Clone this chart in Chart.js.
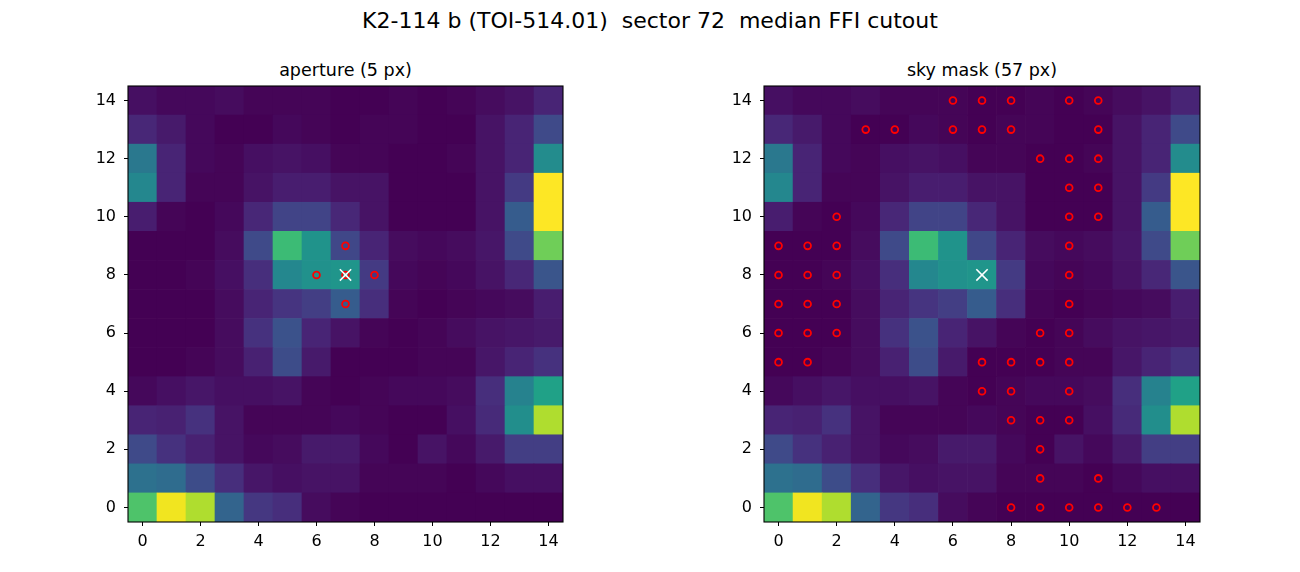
<!DOCTYPE html>
<html>
<head>
<meta charset="utf-8">
<script src="https://cdn.jsdelivr.net/npm/chart.js@4.4.1/dist/chart.umd.min.js"></script>
<style>
  html, body { margin: 0; padding: 0; background: #fff; }
  #wrap { position: relative; width: 1300px; height: 572px; overflow: hidden; font-family: "DejaVu Sans", sans-serif; }
  canvas { position: absolute; top: 0; }
  .t { position: absolute; white-space: pre; transform: translate(-50%, -50%); color: #000; }
</style>
</head>
<body>
<div id="wrap">
  <div class="t" id="sup" style="left:650px; top:20px; font-size:22px;"></div>
  <div class="t" id="t1" style="left:345.5px; top:70px; font-size:17.5px;"></div>
  <div class="t" id="t2" style="left:982px; top:70px; font-size:17.5px;"></div>
  <canvas id="c1" width="650" height="572" style="left:0px"></canvas>
  <canvas id="c2" width="650" height="572" style="left:650px"></canvas>
</div>
<script>
// ---- data ----
const suptitle = "K2-114 b (TOI-514.01)  sector 72  median FFI cutout";
const titleAperture = "aperture (5 px)";
const titleSky = "sky mask (57 px)";

const xTicks = [0, 2, 4, 6, 8, 10, 12, 14];
const yTicks = [0, 2, 4, 6, 8, 10, 12, 14];

// normalized median flux, rows listed from top (y = 14) to bottom (y = 0), columns x = 0..14
const row14 = [0.04,0.02,0.02,0.03,0.01,0.01,0.01,0.00,0.00,0.01,0.00,0.01,0.03,0.05,0.10];
const row13 = [0.11,0.07,0.02,0.00,0.00,0.02,0.01,0.00,0.01,0.01,0.00,0.00,0.05,0.10,0.22];
const row12 = [0.40,0.10,0.02,0.01,0.04,0.05,0.04,0.01,0.01,0.00,0.00,0.01,0.05,0.10,0.48];
const row11 = [0.46,0.10,0.01,0.01,0.05,0.08,0.08,0.05,0.05,0.00,0.00,0.00,0.05,0.17,1.00];
const row10 = [0.08,0.01,0.00,0.02,0.11,0.20,0.20,0.11,0.05,0.00,0.00,0.00,0.05,0.29,1.00];
const row9  = [0.00,0.00,0.00,0.03,0.22,0.68,0.51,0.21,0.10,0.03,0.02,0.03,0.06,0.22,0.78];
const row8  = [0.00,0.00,0.01,0.04,0.13,0.46,0.50,0.52,0.17,0.02,0.01,0.02,0.05,0.11,0.26];
const row7  = [0.00,0.00,0.00,0.03,0.10,0.15,0.18,0.29,0.13,0.01,0.00,0.01,0.02,0.03,0.08];
const row6  = [0.00,0.00,0.00,0.03,0.14,0.25,0.10,0.05,0.01,0.00,0.01,0.03,0.05,0.06,0.07];
const row5  = [0.00,0.00,0.01,0.03,0.09,0.23,0.07,0.00,0.00,0.00,0.01,0.01,0.06,0.10,0.14];
const row4  = [0.02,0.04,0.06,0.04,0.04,0.05,0.01,0.00,0.01,0.02,0.02,0.03,0.13,0.44,0.57];
const row3  = [0.10,0.09,0.14,0.05,0.01,0.01,0.01,0.02,0.01,0.00,0.00,0.04,0.12,0.49,0.88];
const row2  = [0.22,0.14,0.09,0.05,0.02,0.03,0.07,0.07,0.02,0.00,0.05,0.02,0.07,0.18,0.18];
const row1  = [0.37,0.35,0.23,0.13,0.06,0.04,0.05,0.05,0.01,0.01,0.01,0.00,0.02,0.04,0.04];
const row0  = [0.72,0.98,0.88,0.32,0.16,0.13,0.03,0.01,0.00,0.00,0.00,0.00,0.00,0.00,0.00];
const fluxRows = [row14,row13,row12,row11,row10,row9,row8,row7,row6,row5,row4,row3,row2,row1,row0];

// aperture pixels
const apertureX = [7, 6, 7, 8, 7];
const apertureY = [9, 8, 8, 8, 7];

// sky mask pixels
const skyX = [6,7,8,10,11, 3,4,6,7,8,11, 9,10,11, 10,11, 2,10,11, 0,1,2,10, 0,1,2,10, 0,1,2,10, 0,1,2,9,10, 0,1,7,8,9,10, 7,8,10, 8,9,10, 9, 9,11, 8,9,10,11,12,13];
const skyY = [14,14,14,14,14, 13,13,13,13,13,13, 12,12,12, 11,11, 10,10,10, 9,9,9,9, 8,8,8,8, 7,7,7,7, 6,6,6,6,6, 5,5,5,5,5,5, 4,4,4, 3,3,3, 2, 1,1, 0,0,0,0,0,0];

// target position
const targetX = [7];
const targetY = [8];

// ---- viridis colormap ----
const viridis = ["#440154","#471365","#482475","#463480","#414487","#3b528b","#355f8d","#2f6c8e","#2a788e","#25848e","#21918c","#1e9c89","#22a884","#2fb47c","#44bf70","#5ec962","#7ad151","#9bd93c","#bddf26","#dfe318","#fde725"];
function hexToRgb(h) { return [parseInt(h.slice(1,3),16), parseInt(h.slice(3,5),16), parseInt(h.slice(5,7),16)]; }
const vRgb = viridis.map(hexToRgb);
function cmap(v) {
  v = Math.max(0, Math.min(1, v));
  const p = v * (vRgb.length - 1);
  const i = Math.min(Math.floor(p), vRgb.length - 2);
  const f = p - i;
  const a = vRgb[i], b = vRgb[i + 1];
  return "rgb(" + a.map((c, k) => Math.round(c + (b[k] - c) * f)).join(",") + ")";
}

// ---- build cell table ----
const cells = [];
const cellColors = [];
fluxRows.forEach((row, i) => {
  const y = fluxRows.length - 1 - i;
  row.forEach((v, x) => {
    cells.push({ x: x, y: [y - 0.5, y + 0.5] });
    cellColors.push(cmap(v));
  });
});

function zipXY(xs, ys) { return xs.map((x, i) => ({ x: x, y: ys[i] })); }

document.getElementById("sup").textContent = suptitle;
document.getElementById("t1").textContent = titleAperture;
document.getElementById("t2").textContent = titleSky;

const framePlugin = {
  id: "frame",
  afterDatasetsDraw(chart) {
    const a = chart.chartArea, ctx = chart.ctx;
    ctx.save();
    ctx.strokeStyle = "#000";
    ctx.lineWidth = 1.1;
    ctx.strokeRect(a.left, a.top, a.right - a.left, a.bottom - a.top);
    ctx.restore();
  }
};

function makePanel(id, yAxisWidth, rightPad, markX, markY) {
  const tickFont = { family: "DejaVu Sans", size: 16 };
  new Chart(document.getElementById(id), {
    type: "bar",
    data: {
      datasets: [
        {
          type: "scatter",
          data: zipXY(targetX, targetY),
          pointStyle: "crossRot",
          pointRadius: 8,
          borderColor: "#ffffff",
          backgroundColor: "#ffffff",
          borderWidth: 1.6,
          order: 0
        },
        {
          type: "scatter",
          data: zipXY(markX, markY),
          pointStyle: "circle",
          pointRadius: 3.4,
          borderColor: "#ff0000",
          backgroundColor: "rgba(0,0,0,0)",
          borderWidth: 1.8,
          order: 1
        },
        {
          type: "bar",
          data: cells,
          backgroundColor: cellColors,
          borderWidth: 0,
          borderSkipped: false,
          barPercentage: 1,
          categoryPercentage: 1,
          order: 2
        }
      ]
    },
    options: {
      responsive: false,
      animation: false,
      devicePixelRatio: 1,
      layout: { padding: { top: 86, right: rightPad, bottom: 0, left: 0 } },
      plugins: { legend: { display: false }, tooltip: { enabled: false }, title: { display: false } },
      scales: {
        x: {
          type: "linear",
          min: -0.5, max: 14.5,
          offset: false,
          afterBuildTicks: s => { s.ticks = xTicks.map(v => ({ value: v })); },
          afterFit: s => { s.height = 50; },
          grid: { display: true, drawOnChartArea: false, drawTicks: true, tickLength: 4, color: "#000", offset: false },
          border: { display: false },
          ticks: { color: "#000", font: tickFont, padding: 6, maxRotation: 0, autoSkip: false }
        },
        y: {
          type: "linear",
          min: -0.5, max: 14.5,
          afterBuildTicks: s => { s.ticks = yTicks.map(v => ({ value: v })); },
          afterFit: s => { s.width = yAxisWidth; },
          grid: { display: true, drawOnChartArea: false, drawTicks: true, tickLength: 4, color: "#000" },
          border: { display: false },
          ticks: { color: "#000", font: tickFont, padding: 8, autoSkip: false }
        }
      }
    },
    plugins: [framePlugin]
  });
}

makePanel("c1", 128, 87, apertureX, apertureY);
makePanel("c2", 114, 100, skyX, skyY);
</script>
</body>
</html>
